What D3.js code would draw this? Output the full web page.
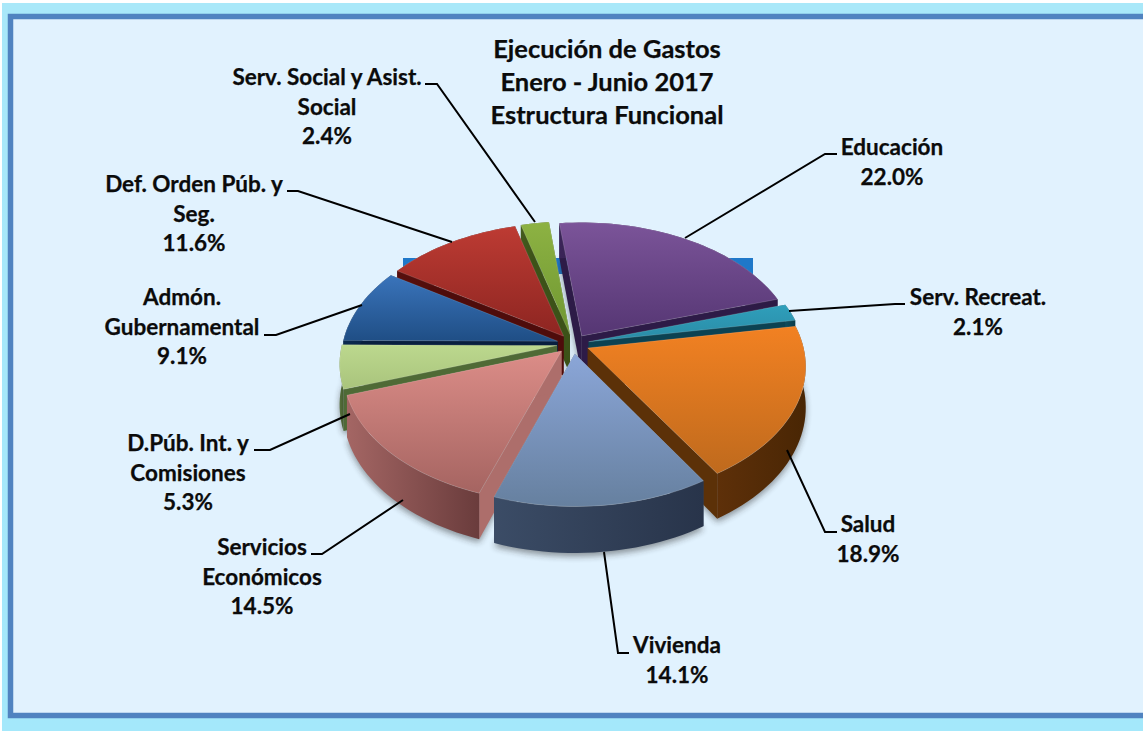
<!DOCTYPE html>
<html><head><meta charset="utf-8">
<script src="https://cdn.jsdelivr.net/npm/d3@7/dist/d3.min.js"></script>
<style>html,body{margin:0;padding:0;background:#fff;overflow:hidden}svg{display:block}
text{font-family:Lato,"Open Sans",sans-serif;font-weight:700;fill:#0b0b0b;stroke:#0b0b0b;stroke-width:.25px}</style>
</head><body><svg id="c" width="1143" height="731"></svg>
<script>
// Data
const categories = ["Educación","Serv. Recreat.","Salud","Vivienda","Servicios Económicos","D.Púb. Int. y Comisiones","Admón. Gubernamental","Def. Orden Púb. y Seg.","Serv. Social y Asist. Social"];
const values = [22.0,2.1,18.9,14.1,14.5,5.3,9.1,11.6,2.4];
const labelLines = [["Educación"],["Serv. Recreat."],["Salud"],["Vivienda"],["Servicios","Económicos"],["D.Púb. Int. y","Comisiones"],["Admón.","Gubernamental"],["Def. Orden Púb. y","Seg."],["Serv. Social y Asist.","Social"]];
const titleLines = ["Ejecución de Gastos","Enero - Junio 2017","Estructura Funcional"];

// Style and layout
const topLight = ["#7b5499","#2f9fbb","#f28122","#8ba6d8","#dc8d88","#bcd88e","#3a74bb","#bd3b33","#8db243"];
const topDark  = ["#553673","#2a8ba6","#bf6a1d","#66809f","#a56461","#a9c47c","#1f4e85","#8d2521","#6f9731"];
const wallLight= ["#3a2457","#0e4c5d","#5e3009","#3b4c66","#a46664","#56703c","#0b2a50","#570f0d","#435a1c"];
const wallDark = ["#2c1a44","#0a3c4a","#492604","#28344a","#6a3c3c","#455c30","#08203e","#430a09","#354815"];
const cutColor = ["#2d1b47","#0c4252","#5c3108","#33435c","#ad6e6b","#4f6a36","#081f3f","#4e0c0b","#3c5218"];
const leaders = [
 [[685,238],[825,154],[837,154]],
 [[789,311],[895,304],[905,304]],
 [[787,450],[825,532],[837,532]],
 [[604,552],[618,653],[629,653]],
 [[403,500],[322,554],[311,554]],
 [[350,414],[270,450],[254,450]],
 [[362,305],[276,335],[264,335]],
 [[452,242],[298,191],[287,191]],
 [[535,222],[437,84],[425,84]]
];
const labelPos = [[892,155],[978,305],[868,532],[677,653],[262,555],[188,451],[182,305],[194,192],[327,85]];
const lineGap = 29.5;

const cx=573, cy=344, R=215, tilt=0.605, persp=0.13, depth=40, explode=0.075;
const rad = d=>d*Math.PI/180;
function project(X,Y,z){
  const s=1/(1-persp*Y);
  return [cx+X*R*s, cy+Y*R*tilt*s+z*s];
}
const svg=d3.select("#c");
const defs=svg.append("defs");
const bgG=defs.append("linearGradient").attr("id","bg").attr("x1",0).attr("y1",0).attr("x2",0).attr("y2",1);
bgG.append("stop").attr("offset",0).attr("stop-color","#a9e8f9");
bgG.append("stop").attr("offset",1).attr("stop-color","#a4e8fb");
const sh=defs.append("filter").attr("id","shadow").attr("x","-10%").attr("y","-10%").attr("width","120%").attr("height","125%");
sh.append("feGaussianBlur").attr("stdDeviation",3);

svg.append("rect").attr("width",1143).attr("height",731).attr("fill","#fff");
svg.append("rect").attr("x",2).attr("y",3).attr("width",1141).attr("height",728).attr("fill","url(#bg)");
svg.append("rect").attr("x",10.5).attr("y",16.5).attr("width",1140).attr("height",699).attr("fill","#e1f2fe").attr("stroke","#5083c0").attr("stroke-width",5.5);

// Band behind the pie
svg.append("rect").attr("x",403).attr("y",258).attr("width",350).attr("height",16).attr("fill","#1f78c9");

const pie=d3.pie().sort(null).startAngle(rad(-6.5)).endAngle(rad(353.5));
const arcs=pie(values).map((d,i)=>({...d,i}));
const line=d3.line();
const shadowG=svg.append("g").attr("filter","url(#shadow)").attr("opacity",0.45);
const g=svg.append("g");

function geom(d){
  const mid=(d.startAngle+d.endAngle)/2;
  const ox=Math.sin(mid)*explode, oy=-Math.cos(mid)*explode;
  const n=Math.max(4,Math.ceil((d.endAngle-d.startAngle)/rad(2)));
  const rim=d3.range(n+1).map(k=>{
    const a=d.startAngle+(d.endAngle-d.startAngle)*k/n;
    return [Math.sin(a)+ox,-Math.cos(a)+oy];
  });
  return {mid,apex:[ox,oy],rim};
}
const P=(p,z)=>project(p[0],p[1],z);

const order=arcs.slice().sort((a,b)=>-Math.cos((a.startAngle+a.endAngle)/2)-(-Math.cos((b.startAngle+b.endAngle)/2)));
// Soft shadow below the body
arcs.forEach(d=>{
  const m=geom(d);
  const pts=[P(m.apex,depth+3),...m.rim.map(p=>P(p,depth+3))];
  shadowG.append("path").attr("d",line(pts)+"Z").attr("fill","#222");
});
order.forEach(d=>{
  const i=d.i, m=geom(d), first=m.rim[0], last=m.rim[m.rim.length-1];
  const xs=m.rim.map(p=>P(p,0)[0]);
  const wid="w"+i, tid="t"+i;
  const wg=defs.append("linearGradient").attr("id",wid).attr("gradientUnits","userSpaceOnUse")
    .attr("x1",d3.min(xs)).attr("x2",d3.max(xs)).attr("y1",0).attr("y2",0);
  wg.append("stop").attr("offset",0).attr("stop-color",wallLight[i]);
  wg.append("stop").attr("offset",1).attr("stop-color",wallDark[i]);
  const tg=defs.append("linearGradient").attr("id",tid).attr("x1",0).attr("y1",0).attr("x2",0).attr("y2",1);
  tg.append("stop").attr("offset",0).attr("stop-color",topLight[i]);
  tg.append("stop").attr("offset",1).attr("stop-color",topDark[i]);

  [first,last].forEach(e=>{
    const q=[P(m.apex,0),P(e,0),P(e,depth),P(m.apex,depth)];
    g.append("path").attr("d",line(q)+"Z").attr("fill",cutColor[i]);
  });
  const wall=[...m.rim.map(p=>P(p,0)),...m.rim.slice().reverse().map(p=>P(p,depth))];
  g.append("path").attr("d",line(wall)+"Z").attr("fill",`url(#${wid})`);
  const top=[P(m.apex,0),...m.rim.map(p=>P(p,0))];
  g.append("path").attr("class","slice").attr("d",line(top)+"Z").attr("fill",`url(#${tid})`)
    .attr("stroke","rgba(255,255,255,.16)").attr("stroke-width",1);
});

// Leaders
const lg=svg.append("g");
leaders.forEach(l=>lg.append("path").attr("d",line(l)).attr("fill","none").attr("stroke","#000").attr("stroke-width",2));

// Labels
const pct=d3.format(".1f");
const fs=22.5;
labelLines.forEach((lines,i)=>{
  const all=[...lines,pct(values[i])+"%"];
  const t=svg.append("text").attr("text-anchor","middle").attr("font-size",fs);
  all.forEach((s,k)=>t.append("tspan").attr("x",labelPos[i][0]).attr("y",labelPos[i][1]+k*lineGap).text(s));
});
// Title
const tt=svg.append("text").attr("text-anchor","middle").attr("font-size",25.5);
titleLines.forEach((s,k)=>tt.append("tspan").attr("x",607).attr("y",58+k*33).text(s));
</script></body></html>
